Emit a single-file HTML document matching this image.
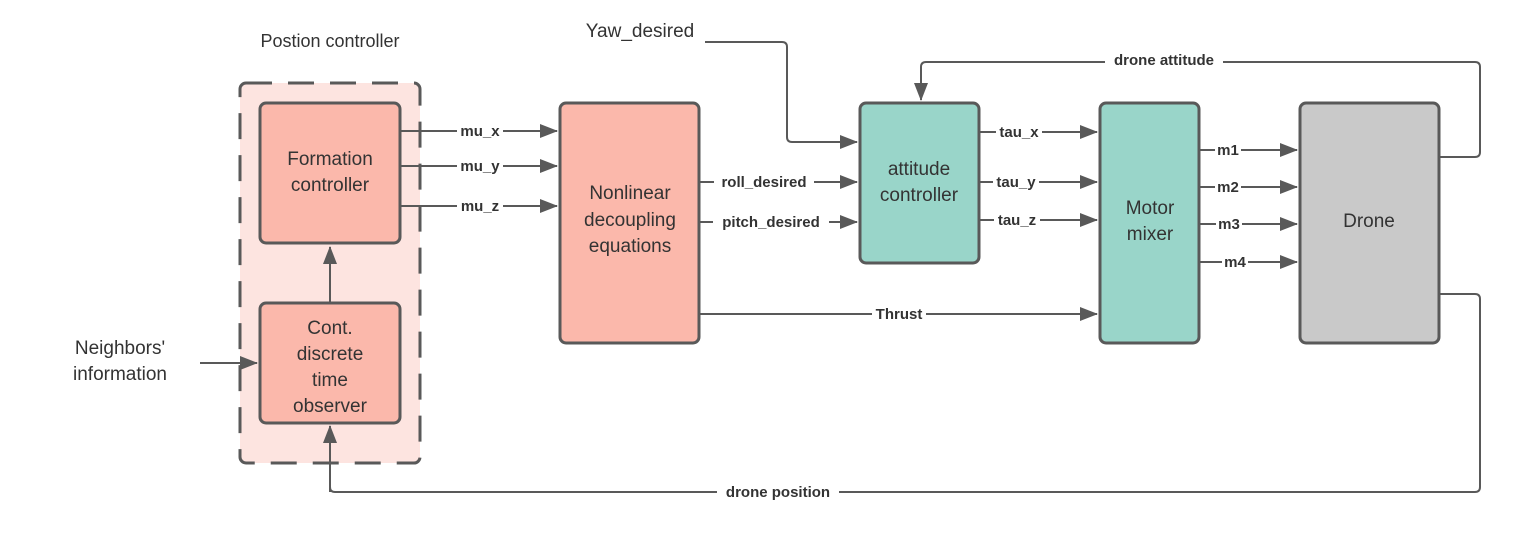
<!DOCTYPE html>
<html><head><meta charset="utf-8"><style>
html,body{margin:0;padding:0;background:#fff;}
svg{display:block;font-family:"Liberation Sans",sans-serif;}
.b{font-size:19px;fill:#333;text-anchor:middle;}
.l{font-size:15px;font-weight:bold;fill:#333;text-anchor:middle;}
.bg{fill:#fff;}
</style></head><body>
<svg width="1523" height="544" viewBox="0 0 1523 544">
<defs>
<marker id="b" viewBox="0 0 18 14" markerWidth="18" markerHeight="14" refX="17" refY="7" orient="auto" markerUnits="userSpaceOnUse"><path d="M0,0 L18,7 L0,14 z" fill="#595959"/></marker></defs>
<rect x="240" y="83" width="180" height="380" rx="6" fill="#fde4e0" stroke="#595959" stroke-width="3" stroke-dasharray="26,16"/>
<text x="330" y="47" class="b" style="font-size:18px">Postion controller</text>
<g stroke="#595959" stroke-width="3">
<rect x="260" y="103" width="140" height="140" rx="6" fill="#fbb8ab"/>
<rect x="260" y="303" width="140" height="120" rx="6" fill="#fbb8ab"/>
<rect x="560" y="103" width="139" height="240" rx="6" fill="#fbb8ab"/>
<rect x="860" y="103" width="119" height="160" rx="6" fill="#99d5c9"/>
<rect x="1100" y="103" width="99" height="240" rx="6" fill="#99d5c9"/>
<rect x="1300" y="103" width="139" height="240" rx="6" fill="#c9c9c9"/>
</g>
<g stroke="#595959" stroke-width="2" fill="none" marker-end="url(#b)">
<path d="M401,131 H557"/><path d="M401,166 H557"/><path d="M401,206 H557"/>
<path d="M330,302 V247"/>
<path d="M200,363 H257"/>
<path d="M330,492 V426"/>
<path d="M700,182 H857"/><path d="M700,222 H857"/>
<path d="M700,314 H1097"/>
<path d="M705,42 H782 Q787,42 787,47 V137 Q787,142 792,142 H857"/>
<path d="M980,132 H1097"/><path d="M980,182 H1097"/><path d="M980,220 H1097"/>
<path d="M1200,150 H1297"/><path d="M1200,187 H1297"/><path d="M1200,224 H1297"/><path d="M1200,262 H1297"/>
<path d="M1440,157 H1475 Q1480,157 1480,152 V67 Q1480,62 1475,62 H926 Q921,62 921,67 V100"/>
<path d="M1440,294 H1475 Q1480,294 1480,299 V487 Q1480,492 1475,492 H335 Q330,492 330,487" marker-end="none"/>
</g>
<text x="330" y="165" class="b">Formation</text><text x="330" y="191" class="b">controller</text>
<text x="330" y="334" class="b">Cont.</text><text x="330" y="360" class="b">discrete</text><text x="330" y="386" class="b">time</text><text x="330" y="412" class="b">observer</text>
<text x="630" y="199" class="b">Nonlinear</text><text x="630" y="226" class="b">decoupling</text><text x="630" y="252" class="b">equations</text>
<text x="919" y="175" class="b">attitude</text><text x="919" y="201" class="b">controller</text>
<text x="1150" y="214" class="b">Motor</text><text x="1150" y="240" class="b">mixer</text>
<text x="1369" y="227" class="b">Drone</text>
<text x="120" y="354" class="b">Neighbors'</text><text x="120" y="380" class="b">information</text>
<text x="640" y="37" class="b">Yaw_desired</text>
<g class="l">
<rect x="457" y="122" width="46" height="16" class="bg"/><text x="480" y="136">mu_x</text>
<rect x="457" y="157" width="46" height="16" class="bg"/><text x="480" y="171">mu_y</text>
<rect x="457" y="197" width="46" height="16" class="bg"/><text x="480" y="211">mu_z</text>
<rect x="714" y="173" width="100" height="16" class="bg"/><text x="764" y="187">roll_desired</text>
<rect x="713" y="213" width="116" height="16" class="bg"/><text x="771" y="227">pitch_desired</text>
<rect x="872" y="305" width="54" height="16" class="bg"/><text x="899" y="319">Thrust</text>
<rect x="996" y="123" width="46" height="16" class="bg"/><text x="1019" y="137">tau_x</text>
<rect x="993" y="173" width="46" height="16" class="bg"/><text x="1016" y="187">tau_y</text>
<rect x="994" y="211" width="46" height="16" class="bg"/><text x="1017" y="225">tau_z</text>
<rect x="1215" y="141" width="26" height="16" class="bg"/><text x="1228" y="155">m1</text>
<rect x="1215" y="178" width="26" height="16" class="bg"/><text x="1228" y="192">m2</text>
<rect x="1216" y="215" width="26" height="16" class="bg"/><text x="1229" y="229">m3</text>
<rect x="1222" y="253" width="26" height="16" class="bg"/><text x="1235" y="267">m4</text>
<rect x="1105" y="52" width="118" height="16" class="bg"/><text x="1164" y="65">drone attitude</text>
<rect x="717" y="483" width="122" height="16" class="bg"/><text x="778" y="497">drone position</text>
</g>
</svg>
</body></html>
